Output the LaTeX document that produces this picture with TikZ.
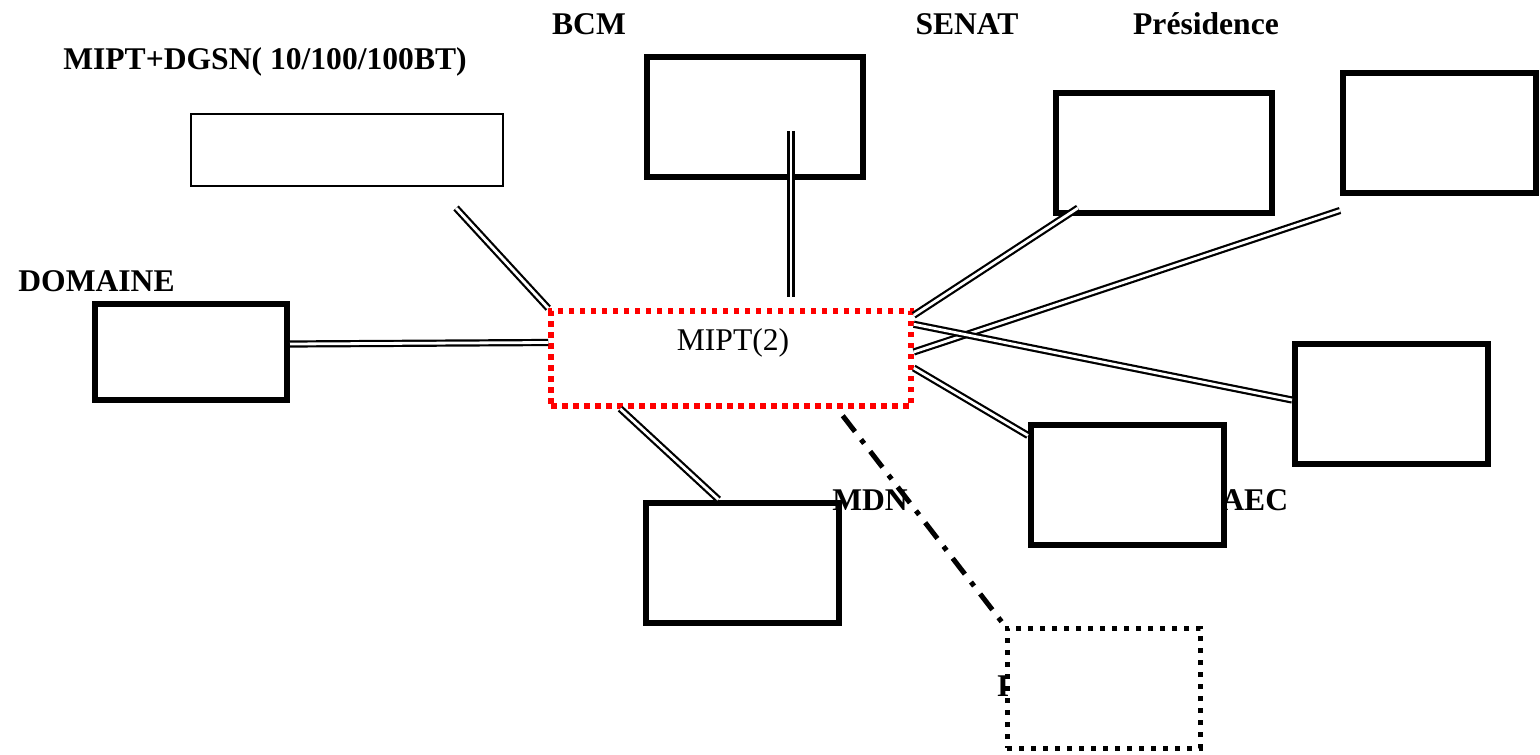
\documentclass[tikz,border=0pt]{standalone}
\usepackage{fontspec}
\setmainfont{Liberation Serif}
\usetikzlibrary{positioning}

\begin{document}
\begin{tikzpicture}[x=0.5pt,y=-0.5pt,
  box/.style={draw, line width=3pt, minimum width=96.5pt, minimum height=60pt, inner sep=0pt},
  dotbox/.style={box, line width=2.5pt, dash pattern=on 2.5pt off 3.5pt},
  lbl/.style={font=\fontsize{15.8}{18}\selectfont\bfseries, inner sep=0pt},
  txt/.style={font=\fontsize{15.8}{18}\selectfont, inner sep=0pt},
  link/.style={double, line width=1.1pt, double distance=1.4pt}]
\useasboundingbox (0,0) rectangle (1540,754);

% labels
\node[lbl] (dgsn-lbl) at (265,62) {MIPT+DGSN( 10/100/100BT)};
\node[lbl] (bcm-lbl) at (589,24) {BCM};
\node[lbl] (senat-lbl) at (967,24) {SENAT};
\node[lbl] (pres-lbl) at (1206,24) {Présidence};
\node[lbl, anchor=west] (dom-lbl) at (18,281) {DOMAINE};
\node[lbl] (mdn-lbl) at (870,500) {MDN};
\node[lbl, anchor=west] (aec-lbl) at (1221,500) {AEC};
\node[lbl] (ext-lbl) at (1003,686) {I};

% boxes
\node[draw, line width=0.6pt, minimum width=156pt, minimum height=36pt] (dgsn) at (347,150) {};
\node[box, minimum width=108pt] (bcm) at (755,117.5) {};
\node[box, minimum width=108pt] (senat) at (1163.5,153) {};
\node[box] (pres) at (1439.5,133.5) {};
\node[box, minimum width=96pt, minimum height=48pt] (dom) at (191,352) {};
\node[box, red, line width=2.75pt, dash pattern=on 2.75pt off 2.75pt,
  minimum width=180pt, minimum height=47.5pt] (mipt) at (731,358.5) {};
\node[txt] (mipt-lbl) at (733,343) {MIPT(2)};
\node[box] (right) at (1391.5,404) {};
\node[box] (aec) at (1127.5,484.5) {};
\node[box] (mdn) at (742.5,562.5) {};
\node[dotbox] (ext) at (1103.5,688) {};

% links
\coordinate (dgsn-out) at (456,208);
\coordinate (bcm-in) at (791,131);
\coordinate (bcm-out) at (791,297);
\coordinate (senat-out) at (1078,208);
\draw[link] (dgsn-out) -- (mipt.north west);
\draw[link] (bcm-in) -- (bcm-out);
\draw[link] ([yshift=4pt]dom.east) -- ([yshift=8pt]mipt.west);
\draw[link] (senat-out) -- ([yshift=-3.5pt]mipt.north east);
\draw[link] ([yshift=-7pt]pres.south west) -- ([yshift=3.25pt]mipt.east);
\draw[link] ([yshift=-8pt]mipt.north east) -- ([yshift=2pt]right.west);
\draw[link] ([yshift=-4.75pt]mipt.east) -- ([yshift=-7pt]aec.north west);
\draw[link] ([xshift=36pt]mipt.south west) -- ([xshift=-12pt]mdn.north);
\draw[line width=2.5pt, dash pattern=on 10pt off 5pt on 2.5pt off 5pt]
  ([xshift=-35.5pt,yshift=-3.5pt]mipt.south east) -- (ext.north west);

\end{tikzpicture}
\end{document}
